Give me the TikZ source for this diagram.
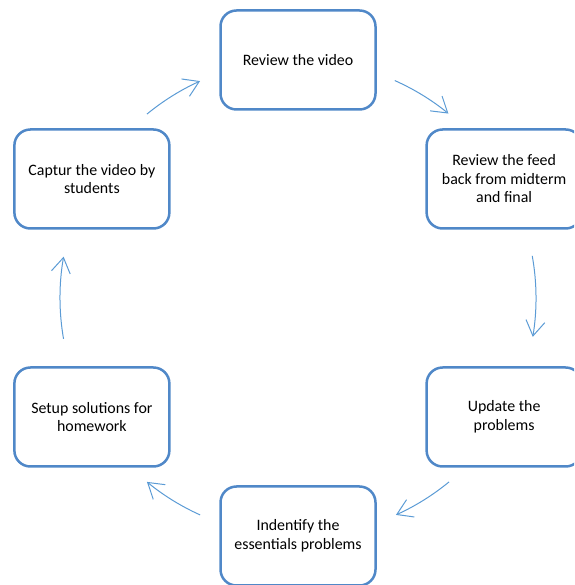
\documentclass[tikz,border=0pt]{standalone}
\usepackage{fontspec}
\setmainfont{Carlito}
\usetikzlibrary{arrows.meta,calc}
\definecolor{boxblue}{RGB}{80,136,200}
\definecolor{arrowblue}{RGB}{91,155,213}
\begin{document}
\begin{tikzpicture}[x=1pt,y=1pt,
  box/.style={draw=boxblue, line width=2.5pt, rounded corners=16pt, fill=white,
    minimum width=155pt, minimum height=99pt, align=center, inner sep=2pt,
    font=\fontsize{15.9}{18.5}\selectfont, text=black},
  cyc/.style={draw=arrowblue, line width=1pt,
    -{Straight Barb[length=15pt,width=19pt,line width=1pt]}}]
\useasboundingbox (0,0) rectangle (574,585);
\clip (0,0) rectangle (574,585);
\coordinate (c) at (298,287);
\node[box] (n1) at ($(c)+(90:238)$) {Review the video};
\node[box] (n2) at ($(c)+(30:238)$) {Review the feed\\back from midterm\\and final};
\node[box] (n3) at ($(c)+(-30:238)$) {Update the\\problems};
\node[box] (n4) at ($(c)+(-90:238)$) {Indentify the\\essentials problems};
\node[box] (n5) at ($(c)+(-150:238)$) {Setup solutions for\\homework};
\node[box] (n6) at ($(c)+(150:238)$) {Captur the video by\\students};
\draw[cyc] ($(c)+(129.4:238)$) arc[start angle=129.4, end angle=114.3, radius=238];
\draw[cyc] ($(c)+(66:238)$) arc[start angle=66, end angle=50.8, radius=238];
\draw[cyc] ($(c)+(10.2:238)$) arc[start angle=10.2, end angle=-9.4, radius=238];
\draw[cyc] ($(c)+(-50.6:238)$) arc[start angle=-50.6, end angle=-65.7, radius=238];
\draw[cyc] ($(c)+(-114.3:238)$) arc[start angle=-114.3, end angle=-129.4, radius=238];
\draw[cyc] ($(c)+(189.9:238)$) arc[start angle=189.9, end angle=170, radius=238];
\end{tikzpicture}
\end{document}
